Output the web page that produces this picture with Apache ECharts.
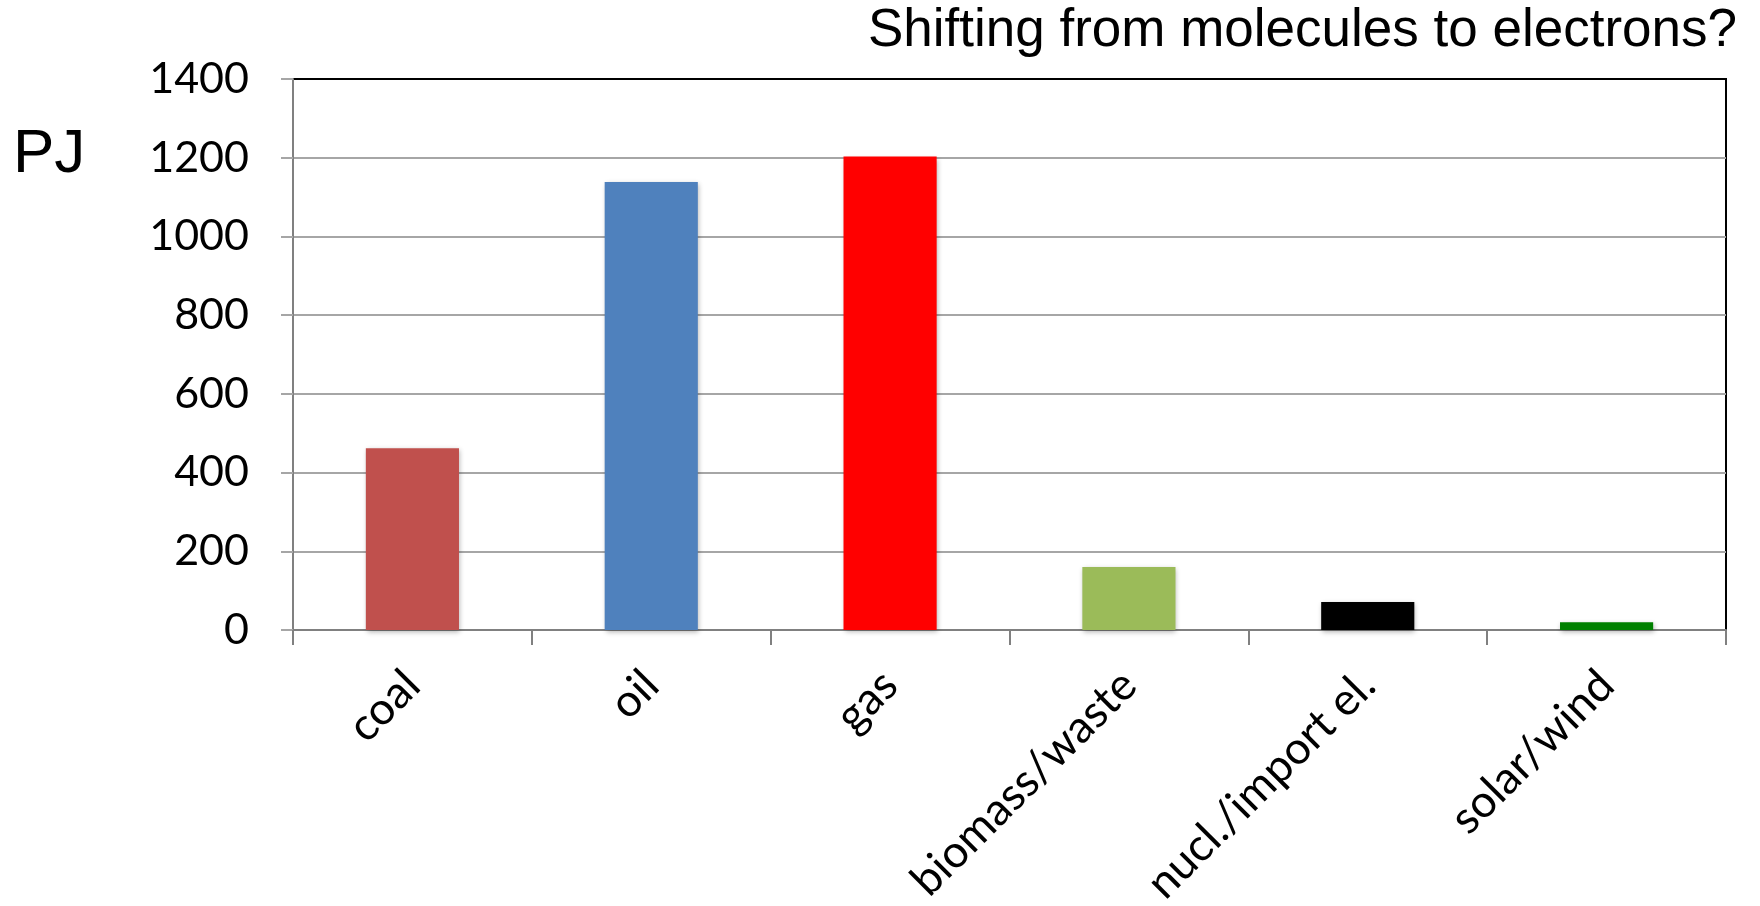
<!DOCTYPE html>
<html>
<head>
<meta charset="utf-8">
<script src="https://cdn.jsdelivr.net/npm/echarts@6/dist/echarts.min.js"></script>
<style>
html,body{margin:0;padding:0;background:#fff;}
#chart{width:1760px;height:906px;}
</style>
</head>
<body>
<div id="chart"></div>
<script>
const categories = ['coal', 'oil', 'gas', 'biomass/waste', 'nucl./import el.', 'solar/wind'];
const values = [462, 1138, 1203, 160, 71, 20];
const barColors = ['#C0504D', '#4F81BD', '#FF0000', '#9BBB59', '#000000', '#008000'];
const yTicks = { min: 0, max: 1400, interval: 200 };
const titleText = 'Shifting from molecules to electrons?';
const unitText = 'PJ';

const nLines = (yTicks.max - yTicks.min) / yTicks.interval + 1;
const splitColors = [];
for (let i = 0; i < nLines; i++) splitColors.push(i === nLines - 1 ? '#000000' : '#a6a6a6');

const chart = echarts.init(document.getElementById('chart'), null, { renderer: 'canvas' });
chart.setOption({
  animation: false,
  backgroundColor: '#ffffff',
  title: [
    { text: titleText, right: 23, top: 5, padding: 0,
      textStyle: { fontFamily: 'Liberation Sans', fontSize: 53, fontWeight: 'normal', color: '#000' } },
    { text: unitText, left: 13, top: 124, padding: 0,
      textStyle: { fontFamily: 'Liberation Sans', fontSize: 62, fontWeight: 'normal', color: '#000' } }
  ],
  grid: { left: 293, right: 34, top: 79, bottom: 276, show: true, borderColor: '#000', borderWidth: 2,
          containLabel: false, outerBoundsMode: 'none' },
  xAxis: {
    type: 'category',
    data: categories,
    axisLine: { lineStyle: { color: '#808080', width: 2 } },
    axisTick: { show: true, length: 15, lineStyle: { color: '#808080', width: 2 } },
    axisLabel: { rotate: 45, margin: 48, interval: 0, fontFamily: 'Lato', fontSize: 45, color: '#000' }
  },
  yAxis: {
    type: 'value',
    min: yTicks.min, max: yTicks.max, interval: yTicks.interval,
    axisLine: { show: true, lineStyle: { color: '#808080', width: 2 } },
    axisTick: { show: true, length: 12, lineStyle: { color: '#a6a6a6', width: 2 } },
    axisLabel: { margin: 44, fontFamily: 'Lato', fontSize: 43, color: '#000', formatter: v => String(v) },
    splitLine: { lineStyle: { color: splitColors, width: 2 } }
  },
  series: [{
    type: 'bar',
    barWidth: '39%',
    data: values.map((v, i) => ({ value: v, itemStyle: { color: barColors[i] } })),
    itemStyle: { shadowBlur: 5, shadowColor: 'rgba(0,0,0,0.3)', shadowOffsetX: 1, shadowOffsetY: 2 }
  }]
});
</script>
</body>
</html>
